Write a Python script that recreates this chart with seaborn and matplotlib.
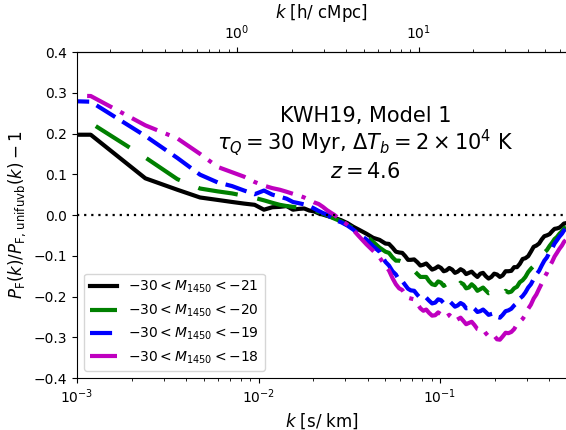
import numpy as np
import pandas as pd
import matplotlib
matplotlib.use("Agg")
import matplotlib.pyplot as plt
import seaborn as sns

# k [s/km]
k = [0.0006, 0.00119, 0.00238, 0.00357, 0.00476, 0.00595, 0.00714, 0.00833, 0.00952, 0.01071,
     0.0119, 0.01309, 0.01428, 0.01547, 0.01666, 0.01785, 0.01904, 0.02023, 0.02142, 0.02261,
     0.0238, 0.0262, 0.0286, 0.0309, 0.0333, 0.0357, 0.0393, 0.0428, 0.0464,
     0.0500, 0.0523, 0.0547, 0.0571, 0.0595, 0.0619, 0.0643, 0.0666, 0.0690, 0.0720,
     0.0750, 0.0779, 0.0809, 0.0839, 0.0869, 0.0904, 0.0940, 0.0976, 0.1012, 0.1047,
     0.1083, 0.1124, 0.1166, 0.1208, 0.1250, 0.1297, 0.1345, 0.1392, 0.1440, 0.1493,
     0.1547, 0.1606, 0.1666, 0.1725, 0.1785, 0.1850, 0.1916, 0.1987, 0.2059, 0.2136,
     0.2213, 0.2296, 0.2380, 0.2469, 0.2559, 0.2654, 0.2749, 0.2850, 0.2951, 0.3058,
     0.3165, 0.3278, 0.3392, 0.3511, 0.3630, 0.3754, 0.3879, 0.4010, 0.4141, 0.4272,
     0.4403, 0.4546, 0.4689, 0.4814, 0.4939]

m21 = [0.197, 0.197, 0.090, 0.062, 0.043, 0.037, 0.032, 0.028, 0.025, 0.013,
       0.019, 0.020, 0.022, 0.013, 0.015, 0.016, 0.011, 0.009, 0.004, 0.001,
       -0.002, -0.007, -0.013, -0.020, -0.029, -0.036, -0.046, -0.056, -0.061,
       -0.070, -0.071, -0.080, -0.090, -0.092, -0.093, -0.101, -0.110, -0.110, -0.109,
       -0.116, -0.124, -0.122, -0.119, -0.126, -0.134, -0.131, -0.126, -0.130, -0.138,
       -0.136, -0.130, -0.134, -0.142, -0.139, -0.133, -0.137, -0.145, -0.142, -0.139,
       -0.146, -0.152, -0.144, -0.142, -0.150, -0.156, -0.152, -0.144, -0.146, -0.152,
       -0.148, -0.138, -0.138, -0.137, -0.128, -0.128, -0.120, -0.108, -0.106, -0.101,
       -0.090, -0.078, -0.075, -0.070, -0.060, -0.052, -0.050, -0.047, -0.040, -0.034,
       -0.033, -0.031, -0.026, -0.021, -0.020]

m20 = [0.226, 0.226, 0.141, 0.088, 0.065, 0.058, 0.053, 0.047, 0.042, 0.036,
       0.030, 0.025, 0.022, 0.020, 0.018, 0.016, 0.014, 0.011, 0.007, 0.003,
       -0.001, -0.009, -0.016, -0.025, -0.032, -0.038, -0.052, -0.066, -0.080,
       -0.090, -0.093, -0.104, -0.112, -0.112, -0.115, -0.126, -0.135, -0.136, -0.137,
       -0.145, -0.152, -0.152, -0.152, -0.162, -0.170, -0.172, -0.163, -0.166, -0.174,
       -0.170, -0.161, -0.165, -0.176, -0.174, -0.166, -0.170, -0.180, -0.178, -0.170,
       -0.176, -0.186, -0.182, -0.178, -0.185, -0.192, -0.190, -0.188, -0.196, -0.199,
       -0.193, -0.186, -0.190, -0.188, -0.180, -0.176, -0.165, -0.160, -0.152, -0.140,
       -0.132, -0.125, -0.118, -0.106, -0.100, -0.092, -0.086, -0.076, -0.068, -0.059,
       -0.054, -0.046, -0.040, -0.033, -0.029]

m19 = [0.282, 0.278, 0.194, 0.140, 0.099, 0.080, 0.071, 0.060, 0.051, 0.060,
       0.050, 0.045, 0.040, 0.032, 0.029, 0.026, 0.022, 0.016, 0.010, 0.005,
       0.001, -0.012, -0.018, -0.026, -0.036, -0.047, -0.060, -0.077, -0.090,
       -0.115, -0.124, -0.138, -0.146, -0.160, -0.162, -0.172, -0.181, -0.185, -0.186,
       -0.196, -0.204, -0.205, -0.203, -0.210, -0.217, -0.215, -0.207, -0.209, -0.216,
       -0.214, -0.211, -0.218, -0.225, -0.222, -0.216, -0.220, -0.229, -0.228, -0.224,
       -0.230, -0.238, -0.236, -0.232, -0.238, -0.245, -0.243, -0.241, -0.250, -0.252,
       -0.245, -0.236, -0.234, -0.230, -0.222, -0.216, -0.205, -0.199, -0.190, -0.178,
       -0.170, -0.157, -0.146, -0.137, -0.124, -0.112, -0.104, -0.091, -0.082, -0.070,
       -0.062, -0.053, -0.046, -0.038, -0.033]

m18 = [0.294, 0.292, 0.220, 0.188, 0.150, 0.118, 0.105, 0.094, 0.081, 0.072,
       0.066, 0.062, 0.057, 0.052, 0.048, 0.043, 0.037, 0.031, 0.027, 0.020,
       0.012, 0.000, -0.013, -0.024, -0.037, -0.052, -0.072, -0.088, -0.104,
       -0.125, -0.136, -0.155, -0.170, -0.180, -0.184, -0.195, -0.203, -0.205, -0.207,
       -0.218, -0.229, -0.235, -0.232, -0.240, -0.247, -0.246, -0.239, -0.244, -0.252,
       -0.250, -0.245, -0.252, -0.260, -0.256, -0.252, -0.260, -0.268, -0.265, -0.262,
       -0.270, -0.280, -0.282, -0.280, -0.290, -0.298, -0.300, -0.296, -0.305, -0.306,
       -0.298, -0.289, -0.290, -0.287, -0.280, -0.268, -0.262, -0.255, -0.245, -0.230,
       -0.220, -0.205, -0.195, -0.181, -0.168, -0.153, -0.142, -0.126, -0.115, -0.102,
       -0.093, -0.083, -0.075, -0.066, -0.061]

labels = [r"$-30 < M_{1450} < -21$", r"$-30 < M_{1450} < -20$",
          r"$-30 < M_{1450} < -19$", r"$-30 < M_{1450} < -18$"]
series = [m21, m20, m19, m18]
colors = ["k", "g", "b", "m"]
styles = ["-", (0, (9.6, 4.8)), (0, (5.3, 2.0)), (0, (6.7, 2.2, 1.0, 2.2))]

fig = plt.figure(figsize=(5.66, 4.30), dpi=100)
ax = fig.add_axes([77/566, (430-378)/430, 1 - 77/566, (378-52)/430])

for vals, lab, c, ls in zip(series, labels, colors, styles):
    df = pd.DataFrame({"k": k, "v": vals})
    sns.lineplot(data=df, x="k", y="v", color=c, lw=3, linestyle=ls,
                 label=lab, ax=ax, sort=True)

ax.axhline(0.0, color="k", lw=1.6, linestyle=(0, (1, 2.2)))
ax.set_xscale("log")
ax.set_xlim(1e-3, 0.494)
ax.set_ylim(-0.4, 0.4)
ax.set_yticks(np.arange(-0.4, 0.41, 0.1))
ax.spines["right"].set_visible(False)
ax.tick_params(labelsize=10)
ax.set_xlabel(r"$k$ [s/ km]", fontsize=12)
ax.set_ylabel(r"$P_{\rm F}(k)/P_{\rm F,\,unifuvb}(k) - 1$", fontsize=12)

fac = 131.4
sec = ax.secondary_xaxis("top", functions=(lambda x: x * fac, lambda x: x / fac))
sec.set_xticks([1.0, 10.0])
sec.set_xticklabels([r"$10^{0}$", r"$10^{1}$"])
sec.set_xlabel(r"$k$ [h/ cMpc]", fontsize=12)
sec.tick_params(labelsize=10)

ax.text(0.59, 0.804, "KWH19, Model 1", transform=ax.transAxes, ha="center", va="center", fontsize=15)
ax.text(0.59, 0.721, r"$\tau_Q = 30$ Myr, $\Delta T_b = 2\times10^4$ K", transform=ax.transAxes,
        ha="center", va="center", fontsize=15)
ax.text(0.59, 0.632, r"$z = 4.6$", transform=ax.transAxes, ha="center", va="center", fontsize=15)

ax.legend(loc="lower left", fontsize=10)

fig.savefig("out.png", dpi=100)
